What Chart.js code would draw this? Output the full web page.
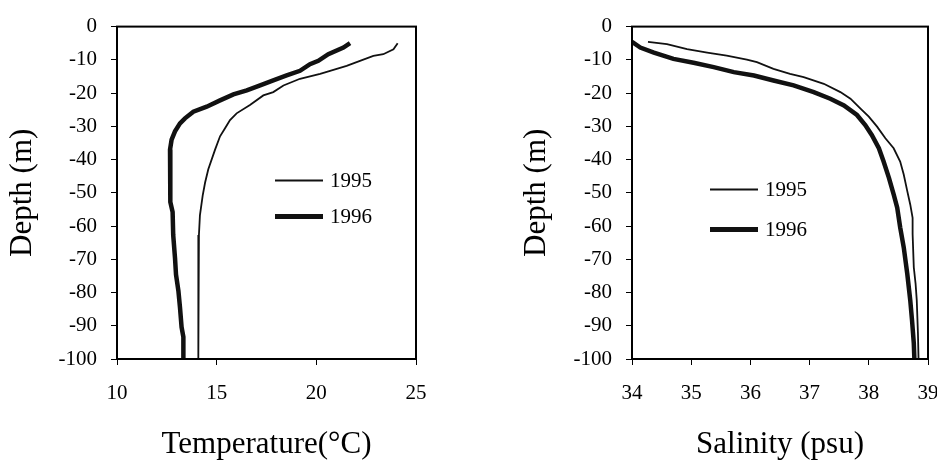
<!DOCTYPE html>
<html><head><meta charset="utf-8">
<script src="https://cdn.jsdelivr.net/npm/chart.js@4.4.0/dist/chart.umd.min.js"></script>
<style>
html,body{margin:0;padding:0;background:#fff;overflow:hidden;width:937px;height:460px;}
#wrap{position:relative;width:937px;height:460px;overflow:hidden;}
canvas{position:absolute;top:0;}
</style></head><body>
<div id="wrap">
<canvas id="c1" width="468" height="460" style="left:0;width:468px;height:460px"></canvas>
<canvas id="c2" width="490" height="460" style="left:468px;width:490px;height:460px"></canvas>
</div>
<script>
// ---------- data ----------
const seriesLabels = ['1995', '1996'];
const depthTicks = [0, -10, -20, -30, -40, -50, -60, -70, -80, -90, -100];
const tempTicks = [10, 15, 20, 25];
const salTicks = [34, 35, 36, 37, 38, 39];

const tempDepth1995 = [-5, -6.8, -8.3, -8.8, -10.3, -11.8, -13.3, -14.2, -15.7, -17.7, -19.7, -20.7, -23.6, -26.1, -28.1, -30.6, -33, -37, -42.9, -46.9, -50.8, -56.8, -62.7, -66, -80, -100];
const temp1995 = [24.08, 23.87, 23.36, 22.86, 22.19, 21.52, 20.69, 20.19, 19.18, 18.35, 17.84, 17.34, 16.67, 16.0, 15.67, 15.42, 15.17, 14.92, 14.58, 14.42, 14.30, 14.16, 14.11, 14.08, 14.08, 14.08];

const tempDepth1996 = [-5, -6.3, -8.3, -10.3, -11.3, -13.3, -14.7, -16.2, -17.7, -19.2, -20.4, -22.2, -24.1, -25.6, -27.6, -29.1, -31.5, -34, -37, -44, -52.8, -55.8, -62.7, -69.6, -74.6, -79.5, -84.5, -90.4, -93.4, -100];
const temp1996 = [21.69, 21.36, 20.6, 20.1, 19.68, 19.18, 18.51, 17.84, 17.18, 16.51, 15.84, 15.17, 14.5, 13.83, 13.41, 13.16, 12.91, 12.74, 12.66, 12.66, 12.69, 12.79, 12.82, 12.91, 12.96, 13.08, 13.16, 13.24, 13.33, 13.33];

const salDepth1995 = [-4.6, -5.3, -6.8, -7.8, -8.7, -9.9, -10.7, -12.7, -14.2, -15.2, -17.2, -19.7, -21.7, -24.7, -27.1, -30.1, -33.6, -36.6, -40.6, -44.5, -49.5, -53.5, -57.5, -62.4, -72.4, -77.3, -82.3, -92.2, -100];
const sal1995 = [34.27, 34.59, 34.93, 35.27, 35.60, 35.94, 36.11, 36.39, 36.67, 36.90, 37.24, 37.52, 37.69, 37.86, 38.0, 38.14, 38.28, 38.42, 38.53, 38.59, 38.65, 38.70, 38.74, 38.74, 38.76, 38.79, 38.81, 38.83, 38.84];

const salDepth1996 = [-4.6, -6.3, -7.8, -9.7, -10.9, -12.2, -13.7, -14.7, -16.2, -17.7, -19.7, -21.7, -23.7, -26.6, -29.6, -32.6, -36.6, -40.6, -45.5, -50.5, -54.5, -60.4, -66.4, -74.4, -82.3, -88.3, -95.2, -100];
const sal1996 = [34.0, 34.14, 34.37, 34.70, 35.04, 35.38, 35.72, 36.06, 36.39, 36.73, 37.07, 37.35, 37.58, 37.80, 37.94, 38.05, 38.17, 38.25, 38.34, 38.42, 38.48, 38.53, 38.59, 38.65, 38.70, 38.73, 38.76, 38.77];

// ---------- helpers ----------
const FONT = "'Liberation Serif', 'Times New Roman', serif";
const INK = '#111';
const pts = (xs, ys) => xs.map((x, i) => ({x: x, y: ys[i]}));

const boxPlugin = {
  id: 'box',
  afterDatasetsDraw(chart) {
    const {ctx, chartArea: a} = chart;
    ctx.save();
    ctx.strokeStyle = '#000';
    ctx.lineWidth = 2;
    ctx.strokeRect(a.left, a.top, a.right - a.left, a.bottom - a.top);
    ctx.restore();
  }
};

const legendPlugin = {
  id: 'innerLegend',
  afterDraw(chart, args, opts) {
    const {ctx, chartArea: a} = chart;
    ctx.save();
    chart.data.datasets.forEach((ds, i) => {
      const y = a.top + opts.ys[i];
      const x0 = a.left + opts.x;
      ctx.strokeStyle = INK;
      ctx.lineWidth = i === 0 ? 2 : 5;
      ctx.beginPath();
      ctx.moveTo(x0, y);
      ctx.lineTo(x0 + 48, y);
      ctx.stroke();
      ctx.fillStyle = '#000';
      ctx.font = "21px " + FONT;
      ctx.textBaseline = 'middle';
      ctx.textAlign = 'left';
      ctx.fillText(ds.label, x0 + 55, y + 1);
    });
    ctx.restore();
  }
};

function makeChart(id, cfg) {
  return new Chart(document.getElementById(id), {
    type: 'scatter',
    data: {
      datasets: [
        {label: seriesLabels[0], data: cfg.d1, showLine: true, borderColor: INK, borderWidth: 1.8, pointRadius: 0, tension: 0, fill: false},
        {label: seriesLabels[1], data: cfg.d2, showLine: true, borderColor: INK, borderWidth: 4.5, pointRadius: 0, tension: 0, fill: false}
      ]
    },
    options: {
      responsive: false,
      animation: false,
      events: [],
      layout: {padding: {top: 22, right: cfg.padRight, left: 0, bottom: 0}},
      plugins: {
        legend: {display: false},
        tooltip: {enabled: false},
        innerLegend: {x: cfg.legX, ys: cfg.legYs}
      },
      scales: {
        x: {
          type: 'linear', position: 'bottom',
          min: cfg.xTicks[0], max: cfg.xTicks[cfg.xTicks.length - 1],
          afterBuildTicks: s => { s.ticks = cfg.xTicks.map(v => ({value: v})); },
          afterFit: s => { s.height = 101; },
          ticks: {font: {family: FONT, size: 21}, color: '#000', padding: 16, maxRotation: 0, autoSkip: false},
          grid: {drawOnChartArea: false, drawTicks: true, tickLength: 6, color: '#000', lineWidth: 1},
          border: {display: true, color: '#000', width: 2},
          title: {display: true, text: cfg.xTitle, color: '#000', font: {family: FONT, size: 31, lineHeight: 1}, padding: {top: 0, bottom: 0}}
        },
        y: {
          type: 'linear', position: 'left',
          min: -100, max: 0,
          afterBuildTicks: s => { s.ticks = depthTicks.slice().reverse().map(v => ({value: v})); },
          afterFit: s => { s.width = cfg.yWidth; },
          ticks: {font: {family: FONT, size: 21}, color: '#000', padding: 14, autoSkip: false},
          grid: {drawOnChartArea: false, drawTicks: true, tickLength: 6, color: '#000', lineWidth: 1},
          border: {display: true, color: '#000', width: 2},
          title: {display: true, text: 'Depth (m)', color: '#000', font: {family: FONT, size: 31, lineHeight: 1}, padding: {top: cfg.yTitlePad, bottom: 0}}
        }
      }
    },
    plugins: [boxPlugin, legendPlugin]
  });
}

makeChart('c1', {
  d1: pts(temp1995, tempDepth1995),
  d2: pts(temp1996, tempDepth1996),
  xTicks: tempTicks,
  xTitle: 'Temperature(\u00B0C)',
  padRight: 52, yWidth: 117, yTitlePad: 7,
  legX: 158, legYs: [154, 190]
});

makeChart('c2', {
  d1: pts(sal1995, salDepth1995),
  d2: pts(sal1996, salDepth1996),
  xTicks: salTicks,
  xTitle: 'Salinity (psu)',
  padRight: 30, yWidth: 164, yTitlePad: 53,
  legX: 78, legYs: [163, 203]
});
</script>
</body></html>
